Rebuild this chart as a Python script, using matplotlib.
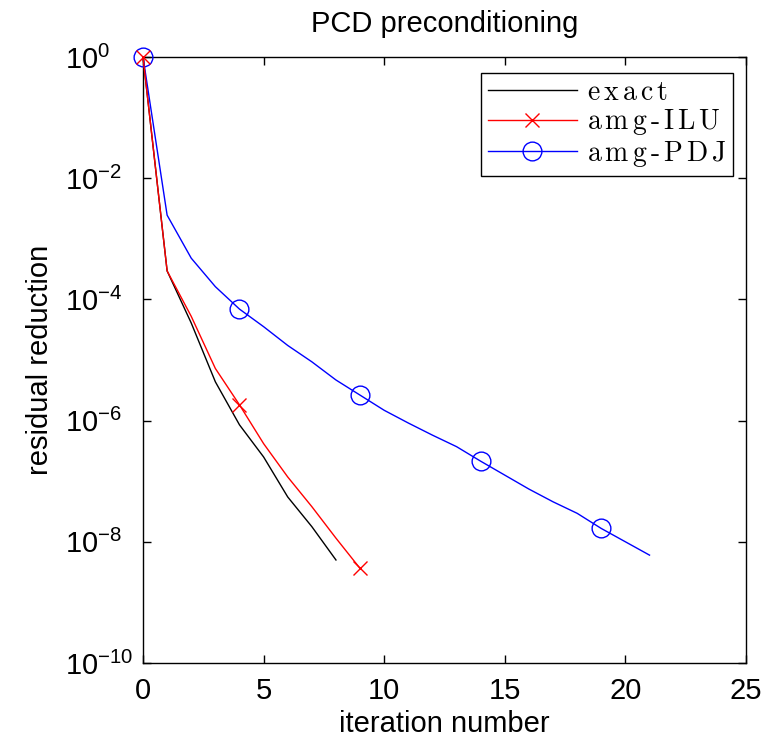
import numpy as np
import matplotlib
matplotlib.use("Agg")
import matplotlib.pyplot as plt
from matplotlib.ticker import NullLocator, FixedLocator

plt.rcParams['font.family'] = ['Liberation Sans', 'DejaVu Sans']
plt.rcParams['mathtext.fontset'] = 'custom'
plt.rcParams['mathtext.rm'] = 'Liberation Sans'
plt.rcParams['mathtext.it'] = 'Liberation Sans:italic'
plt.rcParams['mathtext.bf'] = 'Liberation Sans:bold'

# log10 of residual reduction per iteration
exact_log = [0.0, -3.53, -4.39, -5.36, -6.07, -6.60, -7.26, -7.75, -8.30]
ilu_log = [0.0, -3.53, -4.28, -5.14, -5.74, -6.38, -6.93, -7.42, -7.94, -8.44]
pdj_log = [0.0, -2.61, -3.32, -3.79, -4.16, -4.45, -4.76, -5.03, -5.33, -5.58,
           -5.83, -6.04, -6.24, -6.43, -6.67, -6.90, -7.13, -7.34, -7.53, -7.78,
           -8.00, -8.22]
ilu_marks = [0, 4, 9]
pdj_marks = [0, 4, 9, 14, 19]
labels = ['exact', 'amg-ILU', 'amg-PDJ']


def spaced(s):
    parts = []
    for ch in s:
        parts.append(r'\text{-}' if ch == '-' else ch)
    return r'$\mathrm{' + r'\,'.join(parts) + '}$'


exact = 10.0 ** np.array(exact_log)
ilu = 10.0 ** np.array(ilu_log)
pdj = 10.0 ** np.array(pdj_log)

fig = plt.figure(figsize=(7.7, 7.44), dpi=100)
L, R, T, B = 143, 746, 57, 663
ax = fig.add_axes([L/770, 1 - B/744, (R-L)/770, (B-T)/744])

ax.semilogy(np.arange(len(exact)), exact, '-', color='black', lw=1.0,
            label=spaced(labels[0]), clip_on=False)
ax.semilogy(np.arange(len(ilu)), ilu, '-x', color='red', lw=1.0, ms=10,
            mew=1.0, markevery=ilu_marks, label=spaced(labels[1]), clip_on=False,
            zorder=4)
ax.semilogy(np.arange(len(pdj)), pdj, '-o', color='blue', lw=1.0, ms=13.5,
            mfc='none', mew=1.0, markevery=pdj_marks, label=spaced(labels[2]),
            clip_on=False, zorder=3)

ax.set_xlim(0, 25)
ax.set_ylim(1e-10, 1e0)
ax.set_xticks([0, 5, 10, 15, 20, 25])
ax.yaxis.set_major_locator(FixedLocator([1e-10, 1e-8, 1e-6, 1e-4, 1e-2, 1e0]))
ax.yaxis.set_minor_locator(NullLocator())
ax.tick_params(direction='in', top=True, right=True, length=6, width=1.0,
               labelsize=21)
ax.tick_params(axis='x', pad=10)
ax.tick_params(axis='y', pad=56)
for lab in ax.get_yticklabels():
    lab.set_horizontalalignment('left')
for s in ax.spines.values():
    s.set_linewidth(1.0)

ax.set_xlabel('iteration number', fontsize=21, labelpad=4)
ax.set_ylabel('residual reduction', fontsize=21, labelpad=8)
ax.set_title('PCD preconditioning', fontsize=21, pad=18)

leg = ax.legend(loc='upper right', fontsize=20, frameon=True, fancybox=False,
                edgecolor='black', framealpha=1, handlelength=3.2,
                bbox_to_anchor=((733 - L) / (R - L), (B - 73) / (B - T)),
                borderaxespad=0, labelspacing=0.05, handletextpad=0.35,
                borderpad=0.25)
leg.get_frame().set_linewidth(1.0)
for t in leg.get_texts():
    t.set_math_fontfamily('cm')

fig.savefig('out.png', dpi=100)
